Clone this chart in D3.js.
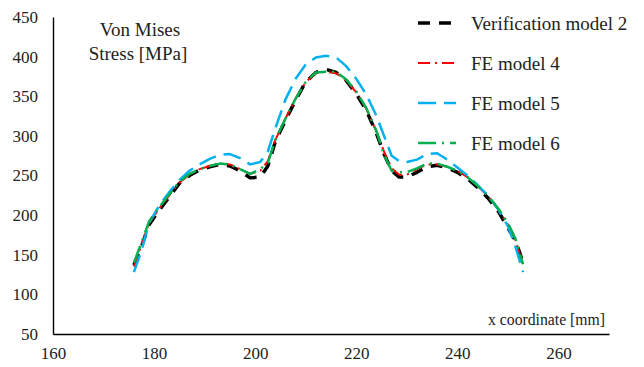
<!DOCTYPE html>
<html>
<head>
<meta charset="utf-8">
<script src="https://cdn.jsdelivr.net/npm/d3@7"></script>
<style>
  body { margin: 0; background: #fff; }
  text { font-family: "Liberation Serif", "Times New Roman", serif; fill: #222; }
</style>
</head>
<body>
<div class="chart"></div>
<script>
// x coordinate [mm] shared by all series
var xCoords = [176, 177.5, 179, 181, 183, 185, 187, 189, 191, 193, 195, 197, 199, 201, 202.5,
  204, 206, 208, 210, 212, 214, 216, 218, 220, 222, 224, 225.5, 227, 228.5, 230,
  232, 234, 236, 238, 240, 242, 244, 246, 248, 250, 251.5, 253];

var verification2 = [137, 160, 188, 206, 223, 240, 250, 257, 261, 264, 262, 256, 247, 248, 262,
  293, 320, 345, 368, 380, 384, 380, 370, 353, 332, 303, 277, 256, 248, 248,
  254, 261, 263, 260, 254, 246, 235, 222, 206, 184, 168, 140];

var feModel4 = [135, 162, 190, 208, 225, 241, 251, 258, 262, 265, 264, 258, 252, 256, 268,
  295, 322, 347, 368, 379, 381, 379, 370, 355, 334, 305, 280, 259, 251, 251,
  258, 264, 264, 261, 256, 248, 237, 224, 208, 188, 168, 137];

var feModel5 = [128, 155, 190, 212, 229, 244, 256, 264, 271, 276, 277, 272, 264, 267, 280,
  310, 346, 372, 390, 399, 401, 399, 388, 372, 352, 325, 300, 275, 268, 267,
  270, 277, 278, 270, 260, 250, 238, 225, 208, 186, 160, 128];

var feModel6 = [140, 165, 192, 210, 226, 242, 252, 258, 262, 265, 264, 258, 252, 258, 266,
  295, 322, 347, 368, 380, 381, 381, 371, 356, 335, 306, 276, 256, 254, 254,
  259, 265, 265, 261, 256, 248, 237, 225, 209, 190, 170, 138];

var seriesNames = ["Verification model 2", "FE model 4", "FE model 5", "FE model 6"];
var seriesValues = [verification2, feModel4, feModel5, feModel6];

var xTicks = [160, 180, 200, 220, 240, 260];
var yTicks = [50, 100, 150, 200, 250, 300, 350, 400, 450];

// line styles per series
var styles = [
  { color: "#000000", width: 3.5, dash: "12,9" },
  { color: "#ff0000", width: 2, dash: "12,5,2,5" },
  { color: "#00b0f0", width: 2.5, dash: "18,8" },
  { color: "#00b050", width: 2.5, dash: "18,6,2,6" }
];

var svgWidth = 644;
var svgHeight = 367;

var svg = d3.select(".chart")
  .append("svg")
  .attr("width", svgWidth)
  .attr("height", svgHeight);

var xScale = d3.scaleLinear().domain([160, 270]).range([53, 609]);
var yScale = d3.scaleLinear().domain([50, 450]).range([334, 17]);

// axes: plain lines, no tick marks
var xAxis = svg.append("g")
  .attr("transform", `translate(0, ${yScale(50)})`)
  .call(d3.axisBottom(xScale).tickValues(xTicks).tickSize(0).tickPadding(13));
xAxis.select(".domain").attr("stroke", "#000").attr("stroke-width", 1.4);
xAxis.selectAll("text").attr("font-size", 17).attr("fill", "#222")
  .style("font-family", "'Liberation Serif', serif");

var yAxis = svg.append("g")
  .attr("transform", `translate(${xScale(160)}, 0)`)
  .call(d3.axisLeft(yScale).tickValues(yTicks).tickSize(0).tickPadding(15));
yAxis.select(".domain").attr("stroke", "#000").attr("stroke-width", 1.4);
yAxis.selectAll("text").attr("font-size", 17).attr("fill", "#222")
  .style("font-family", "'Liberation Serif', serif");

// lines
var line = d3.line()
  .x(d => xScale(d[0]))
  .y(d => yScale(d[1]));

seriesValues.forEach(function(vals, i) {
  var pts = xCoords.map((x, j) => [x, vals[j]]);
  svg.append("path")
    .datum(pts)
    .attr("fill", "none")
    .attr("stroke", styles[i].color)
    .attr("stroke-width", styles[i].width)
    .attr("stroke-dasharray", styles[i].dash)
    .attr("stroke-linejoin", "round")
    .attr("d", line);
});

// y axis title inside the plot
var yTitle = svg.append("text")
  .attr("text-anchor", "middle")
  .attr("font-size", 19);
yTitle.append("tspan").attr("x", 140).attr("y", 36).text("Von Mises");
yTitle.append("tspan").attr("x", 138).attr("y", 60).text("Stress [MPa]");

// x axis title
svg.append("text")
  .attr("x", 605)
  .attr("y", 325)
  .attr("text-anchor", "end")
  .attr("font-size", 16.5)
  .attr("textLength", 117)
  .attr("lengthAdjust", "spacingAndGlyphs")
  .text("x coordinate [mm]");

// legend
var legend = svg.append("g");
seriesNames.forEach(function(name, i) {
  var cy = 23 + i * 40;
  legend.append("line")
    .attr("x1", 418).attr("x2", 456)
    .attr("y1", cy).attr("y2", cy)
    .attr("stroke", styles[i].color)
    .attr("stroke-width", styles[i].width)
    .attr("stroke-dasharray", styles[i].dash);
  legend.append("text")
    .attr("x", 471)
    .attr("y", cy + 6.5)
    .attr("font-size", 19)
    .text(name);
});
</script>
</body>
</html>
